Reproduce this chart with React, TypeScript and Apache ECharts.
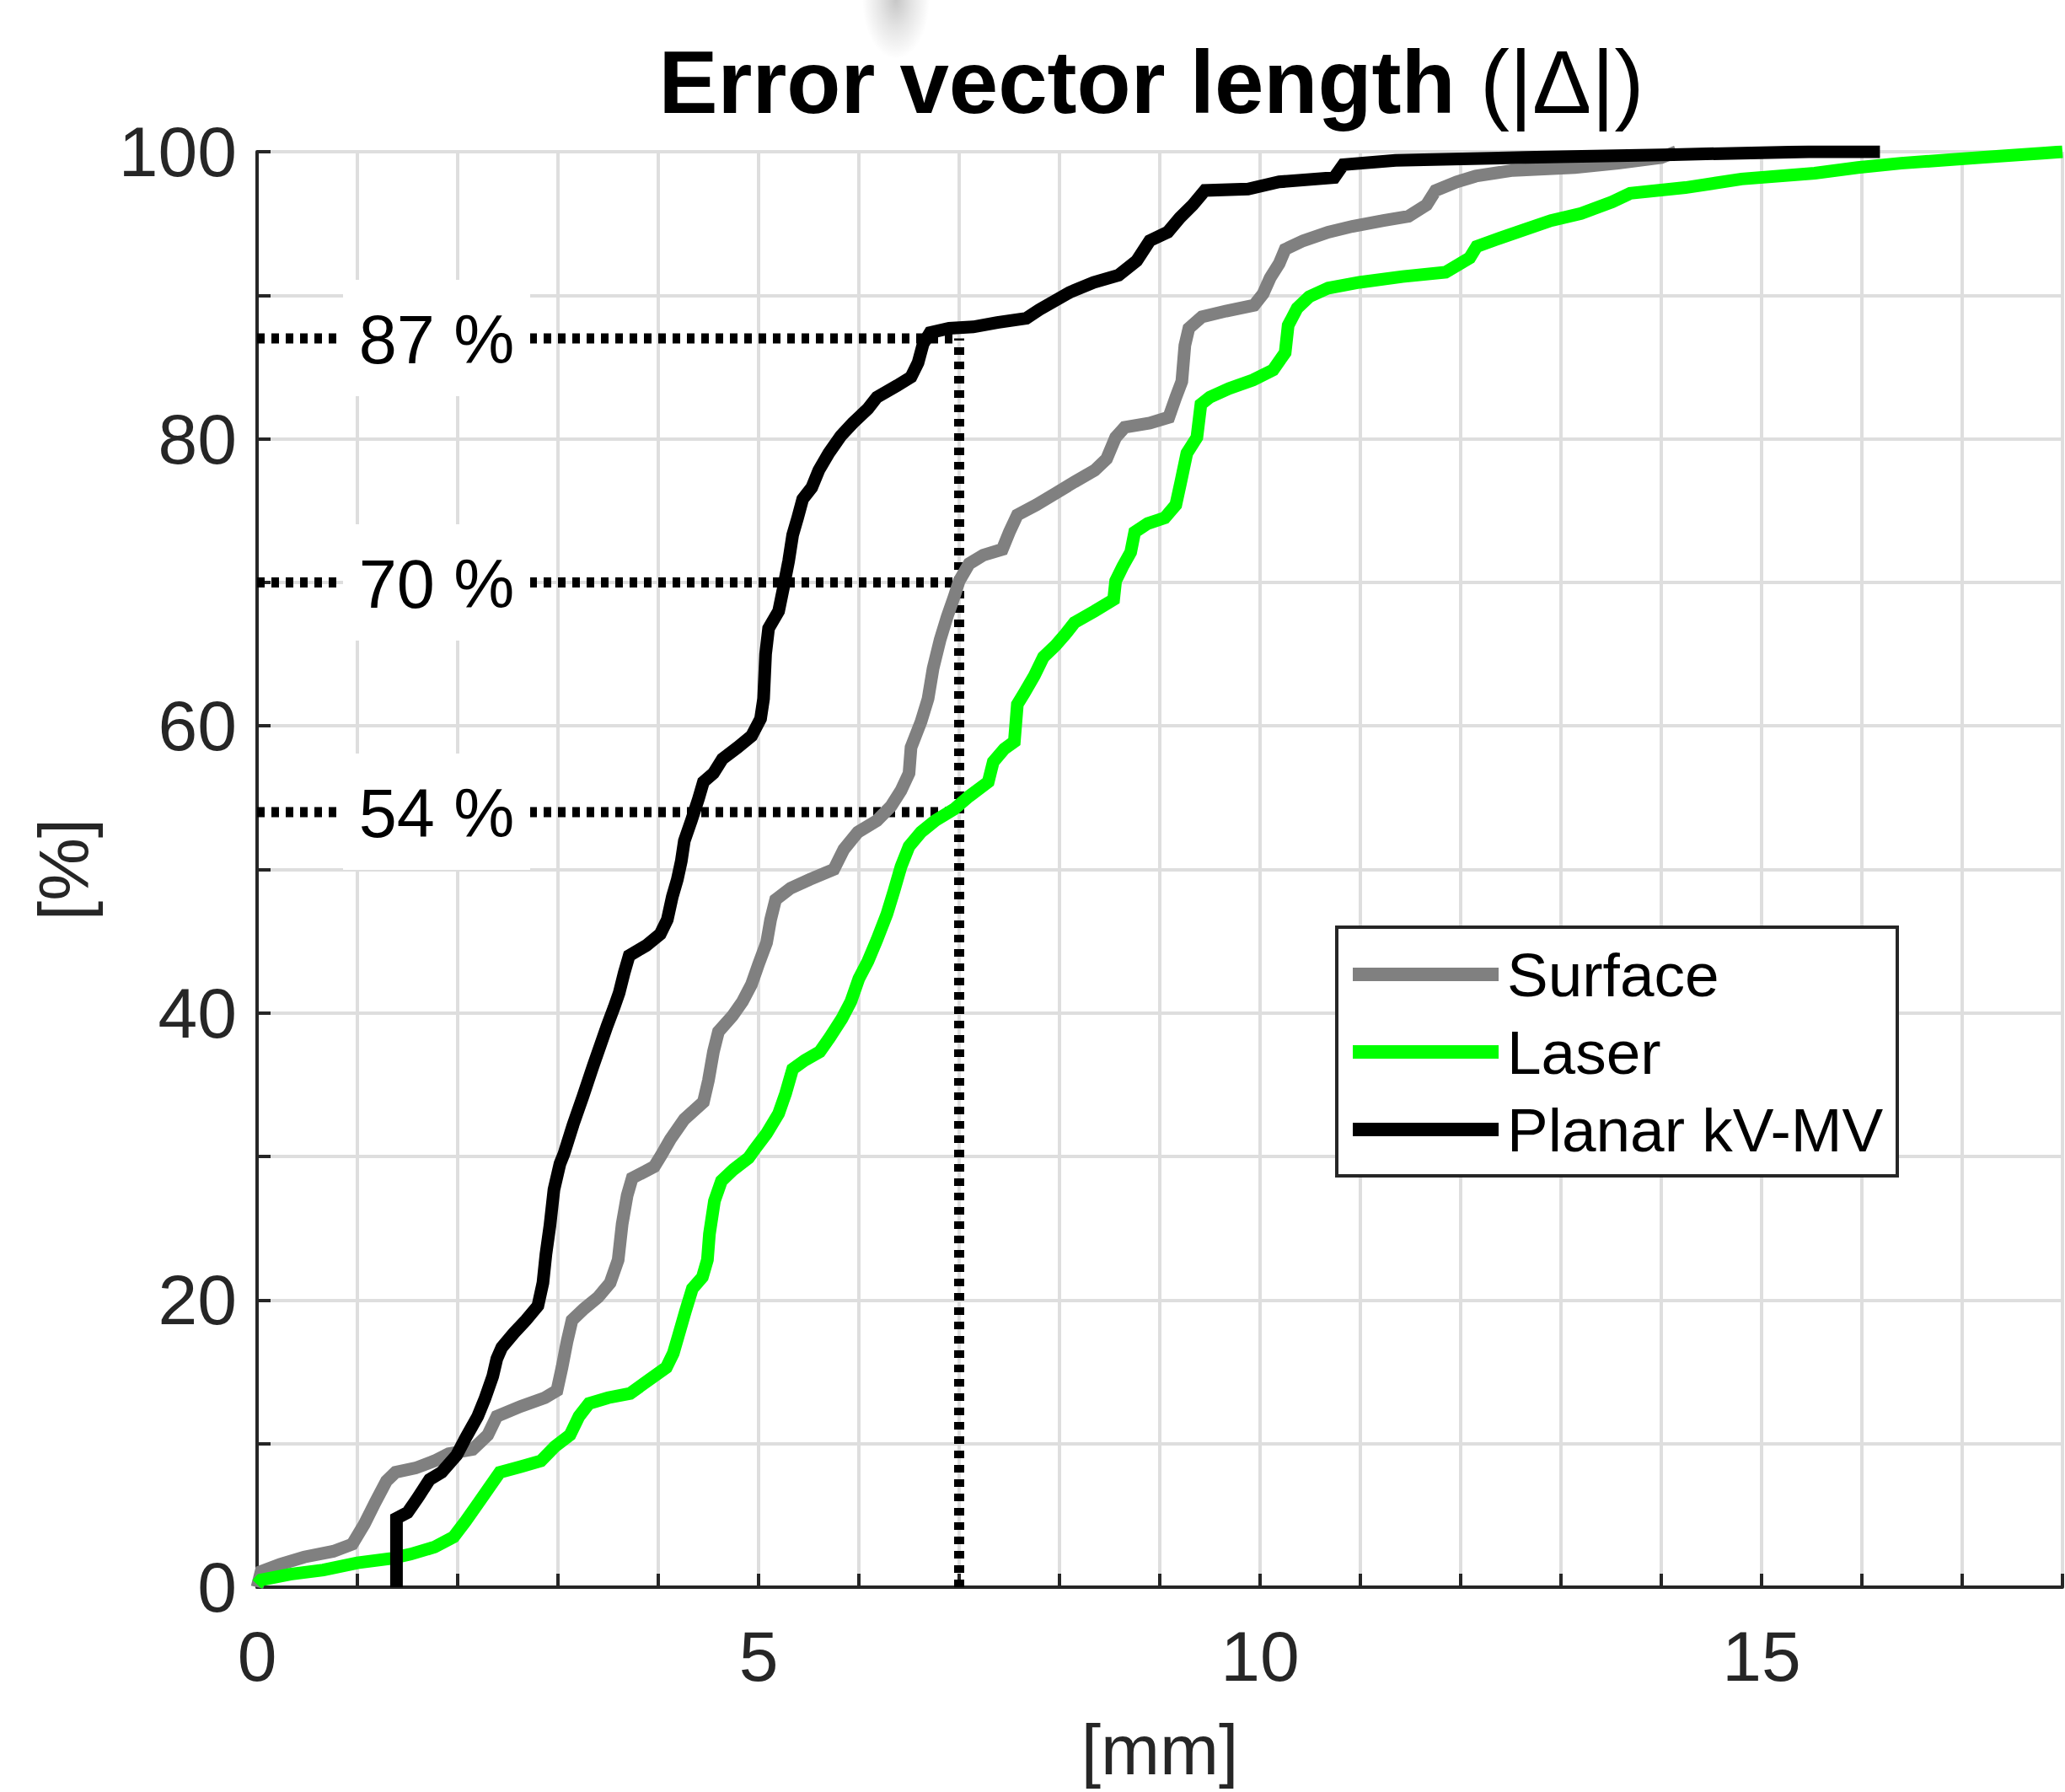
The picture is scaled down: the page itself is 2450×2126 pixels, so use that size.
import { useEffect, useRef } from "react";
import * as echarts from "echarts";

// ---- data (x in mm, y in %) ----
const surfaceData: [number, number][] = [
  [0, 0], [0.04, 1.1], [0.23, 1.6], [0.47, 2.1], [0.76, 2.5], [0.95, 3.0], [1.07, 4.4], [1.17, 5.8],
  [1.29, 7.4], [1.38, 8.0], [1.58, 8.3], [1.77, 8.8], [1.91, 9.3], [2.15, 9.6], [2.3, 10.6], [2.39, 11.9],
  [2.63, 12.6], [2.87, 13.2], [2.99, 13.7], [3.04, 15.3], [3.09, 17.1], [3.14, 18.6], [3.26, 19.4],
  [3.4, 20.2], [3.52, 21.2], [3.6, 22.8], [3.64, 25.3], [3.69, 27.3], [3.74, 28.5], [3.96, 29.3],
  [4.03, 30.1], [4.12, 31.2], [4.26, 32.6], [4.45, 33.8], [4.5, 35.3], [4.55, 37.3], [4.6, 38.7],
  [4.74, 39.8], [4.84, 40.8], [4.93, 42.0], [5.0, 43.4], [5.08, 44.9], [5.12, 46.5], [5.17, 47.9],
  [5.32, 48.7], [5.51, 49.3], [5.75, 50.0], [5.85, 51.4], [5.99, 52.6], [6.18, 53.4], [6.32, 54.4],
  [6.42, 55.5], [6.5, 56.7], [6.52, 58.5], [6.62, 60.3], [6.69, 61.9], [6.74, 64.0], [6.81, 66.0],
  [6.88, 67.6], [6.95, 69.0], [7.0, 70.1], [7.1, 71.3], [7.24, 71.9], [7.43, 72.3], [7.5, 73.5],
  [7.58, 74.7], [7.77, 75.4], [7.96, 76.2], [8.15, 77.0], [8.35, 77.8], [8.47, 78.6], [8.56, 80.1],
  [8.65, 80.8], [8.9, 81.1], [9.09, 81.5], [9.16, 82.9], [9.22, 84.0], [9.25, 86.5], [9.29, 87.7],
  [9.42, 88.5], [9.66, 88.9], [9.94, 89.3], [10.03, 90.1], [10.1, 91.2], [10.19, 92.2], [10.25, 93.2],
  [10.43, 93.8], [10.68, 94.4], [10.92, 94.8], [11.23, 95.2], [11.48, 95.5], [11.66, 96.3],
  [11.75, 97.3], [11.96, 97.9], [12.15, 98.3], [12.52, 98.7], [13.14, 98.9], [13.57, 99.2],
  [14.0, 99.6], [14.15, 100],
];

const laserData: [number, number][] = [
  [0, 0.2], [0.04, 0.5], [0.33, 0.9], [0.66, 1.2], [1.0, 1.7], [1.34, 2.0], [1.53, 2.3], [1.77, 2.8],
  [1.96, 3.5], [2.08, 4.6], [2.2, 5.8], [2.32, 7.0], [2.42, 8.0], [2.63, 8.4], [2.83, 8.8], [2.97, 9.8],
  [3.12, 10.6], [3.21, 11.9], [3.31, 12.8], [3.5, 13.2], [3.72, 13.5], [3.88, 14.3], [4.08, 15.3],
  [4.15, 16.3], [4.2, 17.5], [4.27, 19.2], [4.34, 20.8], [4.44, 21.6], [4.49, 22.8], [4.51, 24.6],
  [4.56, 26.9], [4.63, 28.3], [4.75, 29.1], [4.9, 29.9], [4.96, 30.5], [5.08, 31.6], [5.2, 33.0],
  [5.27, 34.4], [5.34, 36.1], [5.46, 36.7], [5.61, 37.3], [5.71, 38.3], [5.83, 39.6], [5.92, 40.8],
  [6.0, 42.4], [6.09, 43.6], [6.18, 45.1], [6.28, 46.9], [6.35, 48.5], [6.42, 50.2], [6.5, 51.6],
  [6.62, 52.6], [6.76, 53.4], [6.95, 54.2], [7.1, 55.1], [7.29, 56.1], [7.34, 57.5], [7.45, 58.4],
  [7.55, 58.9], [7.58, 61.5], [7.65, 62.3], [7.75, 63.5], [7.84, 64.8], [7.96, 65.6], [8.06, 66.4],
  [8.15, 67.2], [8.35, 68.0], [8.54, 68.8], [8.56, 70.1], [8.63, 71.1], [8.71, 72.1], [8.75, 73.5],
  [8.88, 74.1], [9.05, 74.5], [9.16, 75.4], [9.21, 77.0], [9.27, 79.0], [9.37, 80.1], [9.41, 82.4],
  [9.5, 82.9], [9.69, 83.5], [9.93, 84.1], [10.13, 84.8], [10.25, 86.0], [10.28, 87.9], [10.37, 89.1],
  [10.49, 89.9], [10.68, 90.5], [10.99, 90.9], [11.42, 91.3], [11.85, 91.6], [12.09, 92.6],
  [12.16, 93.4], [12.4, 94.0], [12.65, 94.6], [12.9, 95.2], [13.2, 95.7], [13.51, 96.5], [13.69, 97.1],
  [14.24, 97.5], [14.8, 98.1], [15.53, 98.5], [15.96, 98.9], [16.39, 99.2], [17.19, 99.6],
  [17.8, 99.9], [18, 100],
];

const planarData: [number, number][] = [
  [1.39, 0], [1.39, 4.8], [1.5, 5.2], [1.6, 6.2], [1.72, 7.5], [1.84, 8.0], [1.99, 9.2], [2.08, 10.4],
  [2.2, 11.9], [2.27, 13.1], [2.35, 14.7], [2.39, 15.9], [2.44, 16.7], [2.56, 17.7], [2.68, 18.6],
  [2.8, 19.6], [2.85, 21.2], [2.88, 23.2], [2.92, 25.2], [2.96, 27.7], [3.02, 29.5], [3.06, 30.2],
  [3.15, 32.2], [3.25, 34.2], [3.35, 36.3], [3.42, 37.7], [3.49, 39.1], [3.56, 40.4], [3.61, 41.4],
  [3.66, 42.8], [3.71, 44.0], [3.88, 44.7], [4.02, 45.5], [4.09, 46.5], [4.14, 48.1], [4.19, 49.3],
  [4.23, 50.6], [4.26, 52.0], [4.33, 53.4], [4.4, 54.9], [4.45, 56.1], [4.55, 56.7], [4.64, 57.7],
  [4.79, 58.5], [4.93, 59.3], [5.02, 60.5], [5.05, 61.9], [5.07, 65.0], [5.1, 66.8], [5.2, 68.0],
  [5.25, 69.7], [5.3, 71.5], [5.34, 73.3], [5.39, 74.5], [5.44, 75.8], [5.53, 76.6], [5.6, 77.8],
  [5.7, 79.0], [5.82, 80.2], [5.94, 81.1], [6.09, 82.1], [6.18, 82.9], [6.38, 83.7], [6.52, 84.3],
  [6.59, 85.3], [6.64, 86.6], [6.71, 87.4], [6.9, 87.7], [7.14, 87.8], [7.38, 88.1], [7.67, 88.4],
  [7.8, 89.0], [8.1, 90.2], [8.34, 90.9], [8.59, 91.4], [8.77, 92.4], [8.9, 93.8], [9.08, 94.4],
  [9.2, 95.4], [9.33, 96.3], [9.45, 97.3], [9.88, 97.4], [10.19, 97.9], [10.74, 98.2], [10.83, 99.1],
  [11.35, 99.4], [12.64, 99.6], [14.12, 99.8], [15.47, 100], [16.18, 100],
];

const seriesNames = ["Surface", "Laser", "Planar kV-MV"];
const seriesColors = ["#808080", "#00ff00", "#000000"];
const annotationLevels = [87, 70, 54];
const annotationX = 7;
const annotationLabelX = 1.79;
const xLabelTicks = [0, 5, 10, 15];
const yLabelTicks = [0, 20, 40, 60, 80, 100];

const FONT = "'Liberation Sans', Arial, Helvetica, sans-serif";

export default function App() {
  const ref = useRef<HTMLDivElement>(null);

  useEffect(() => {
    if (!ref.current) return;
    const chart = echarts.init(ref.current, null, { renderer: "svg" });

    const dotted = { type: [9, 8], width: 12, color: "#000000", cap: "butt" };
    const series: any[] = [];

    annotationLevels.forEach((lvl) => {
      series.push({
        type: "line",
        data: [[0, lvl], [annotationX, lvl]],
        symbol: "none",
        lineStyle: dotted,
        silent: true,
        z: 1,
      });
    });
    series.push({
      type: "line",
      data: [[annotationX, 0], [annotationX, annotationLevels[0]]],
      symbol: "none",
      lineStyle: dotted,
      silent: true,
      z: 1,
    });

    const datasets = [surfaceData, laserData, planarData];
    datasets.forEach((d, i) => {
      series.push({
        name: seriesNames[i],
        type: "line",
        data: d,
        symbol: "none",
        lineStyle: { color: seriesColors[i], width: 15, join: "miter" },
        itemStyle: { color: seriesColors[i] },
        z: 2 + i * 0.1,
      });
    });

    // annotation text boxes ("87 %" etc.) drawn above the dotted guide lines
    series.push({
      type: "custom",
      data: annotationLevels.map((lvl) => [annotationLabelX, lvl]),
      encode: { x: 0, y: 1 },
      silent: true,
      z: 8,
      renderItem: (_params: any, api: any) => {
        const p = api.coord([api.value(0), api.value(1)]);
        const cx = Math.round(p[0]);
        const cy = Math.round(p[1]);
        return {
          type: "group",
          children: [
            {
              type: "rect",
              shape: { x: cx - 111, y: cy - 69, width: 222, height: 138 },
              style: { fill: "#ffffff", stroke: null, lineWidth: 0 },
            },
            {
              type: "text",
              x: cx,
              y: cy + 2,
              style: {
                text: `${api.value(1)} %`,
                fontSize: 81,
                fontFamily: FONT,
                fill: "#000000",
                align: "center",
                verticalAlign: "middle",
              },
            },
          ],
        };
      },
    });

    chart.setOption({
      animation: false,
      backgroundColor: "#ffffff",
      title: {
        text: "{b|Error vector length }{n|(|\u0394|)}",
        left: 1366,
        top: 45,
        textAlign: "center",
        padding: 0,
        textStyle: {
          fontSize: 105,
          lineHeight: 105,
          fontWeight: "bold",
          fontFamily: FONT,
          color: "#000000",
          rich: {
            b: { fontSize: 105, lineHeight: 105, fontWeight: "bold", fontFamily: FONT, color: "#000000" },
            n: { fontSize: 105, lineHeight: 105, fontWeight: "normal", fontFamily: FONT, color: "#000000" },
          },
        },
      },
      grid: { left: 305, top: 180, right: -5, bottom: 243, containLabel: false },
      xAxis: {
        type: "value",
        min: 0,
        max: 18,
        interval: 1,
        name: "[mm]",
        nameLocation: "middle",
        nameGap: 151,
        nameTextStyle: { fontSize: 84, lineHeight: 84, fontFamily: FONT, color: "#262626" },
        axisLine: { show: true, onZero: false, lineStyle: { color: "#262626", width: 4 } },
        axisTick: { show: true, inside: true, length: 16, lineStyle: { color: "#262626", width: 4 } },
        splitLine: { show: true, lineStyle: { color: "#dedede", width: 4 } },
        axisLabel: {
          formatter: (v: number) => (xLabelTicks.includes(v) ? String(v) : ""),
          fontSize: 84,
          lineHeight: 84,
          margin: 40,
          fontFamily: FONT,
          color: "#262626",
        },
      },
      yAxis: {
        type: "value",
        min: 0,
        max: 100,
        interval: 10,
        name: "[%]",
        nameLocation: "middle",
        nameRotate: 90,
        nameGap: 187,
        nameTextStyle: { fontSize: 84, lineHeight: 84, fontFamily: FONT, color: "#262626" },
        axisLine: { show: true, onZero: false, lineStyle: { color: "#262626", width: 4 } },
        axisTick: { show: true, inside: true, length: 16, lineStyle: { color: "#262626", width: 4 } },
        splitLine: { show: true, lineStyle: { color: "#dedede", width: 4 } },
        axisLabel: {
          formatter: (v: number) => (yLabelTicks.includes(v) ? String(v) : ""),
          fontSize: 84,
          lineHeight: 84,
          margin: 24,
          fontFamily: FONT,
          color: "#262626",
        },
      },
      legend: {
        data: seriesNames,
        orient: "vertical",
        left: 1605,
        top: 1116,
        padding: 0,
        itemWidth: 173,
        itemHeight: 16,
        itemGap: 12,
        icon: "rect",
        z: 10,
        selectedMode: false,
        textStyle: {
          fontSize: 73,
          lineHeight: 80,
          fontFamily: FONT,
          color: "#000000",
          padding: [0, 0, 0, 5],
        },
      },
      graphic: [
        {
          type: "rect",
          z: 5,
          shape: { x: 1586, y: 1100, width: 665, height: 295 },
          style: { fill: "#ffffff", stroke: "#262626", lineWidth: 4 },
          silent: true,
        },
        {
          type: "ellipse",
          z: 5,
          shape: { cx: 1063, cy: 0, rx: 40, ry: 70 },
          style: {
            fill: new echarts.graphic.RadialGradient(0.5, 0.5, 0.5, [
              { offset: 0, color: "rgba(0,0,0,0.22)" },
              { offset: 0.5, color: "rgba(0,0,0,0.10)" },
              { offset: 1, color: "rgba(0,0,0,0)" },
            ]),
          },
          silent: true,
        },
      ],
      series,
    });

    return () => {
      chart.dispose();
    };
  }, []);

  return (
    <div
      ref={ref}
      style={{ position: "absolute", left: 0, top: 0, width: 2450, height: 2126 }}
    />
  );
}
